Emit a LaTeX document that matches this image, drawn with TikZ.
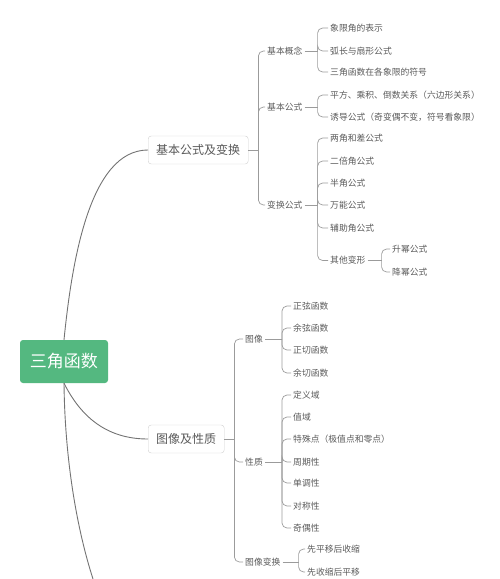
\documentclass[tikz,border=0pt]{standalone}
\usepackage{fontspec}
\newfontfamily\cjk{Noto Sans CJK SC}
\usetikzlibrary{positioning}
\definecolor{rootfill}{RGB}{84,184,128}
\definecolor{boxedge}{RGB}{208,208,208}
\definecolor{inktext}{RGB}{90,90,90}
\definecolor{wire}{RGB}{155,155,155}
\definecolor{trunk}{RGB}{115,115,115}

\begin{document}
\begin{tikzpicture}[x=1pt, y=-1pt,
    root/.style={fill=rootfill, rounded corners=3pt, text=white,
                 font=\cjk\fontsize{17}{20}\selectfont,
                 minimum width=88pt, minimum height=43pt},
    topic/.style={draw=boxedge, fill=white, rounded corners=3pt, text=inktext,
                  font=\cjk\fontsize{12}{14}\selectfont, inner xsep=8pt,
                  minimum height=28pt, anchor=west},
    sub/.style={text=inktext, font=\cjk\fontsize{8.8}{10}\selectfont,
                inner sep=2pt, anchor=west},
    trunkline/.style={trunk, line width=0.9pt},
    link/.style={wire, line width=0.7pt},
    branch/.style={wire, line width=0.7pt, rounded corners=5pt}
  ]
  \useasboundingbox (0,0) rectangle (500,579);

  % root and main topics
  \node[root] (sanjiao) at (64,361.5) {三角函数};
  \node[topic, minimum width=95pt] (jiben) at (148,150) {基本公式及变换};
  \node[topic] (tuxiang) at (148,439) {图像及性质};
  \coordinate (xiayige) at (94,582);

  \draw[trunkline] (sanjiao.north) .. controls (72,260) and (90,150) .. (jiben.west);
  \draw[trunkline] (sanjiao.south) .. controls (80,415) and (105,439) .. (tuxiang.west);
  \draw[trunkline] (sanjiao.south) .. controls (65,470) and (80,540) .. (xiayige);

  % first branch
  \node[sub] (gainian) at (265,51) {基本概念};
  \node[sub] (gongshi) at (265,107) {基本公式};
  \node[sub] (bianhuan) at (265,205) {变换公式};

  \node[sub] (xiangxian) at (328,28) {象限角的表示};
  \node[sub] (huchang) at (328,51) {弧长与扇形公式};
  \node[sub] (fuhao) at (328,72) {三角函数在各象限的符号};
  \node[sub] (pingfang) at (328,95) {平方、乘积、倒数关系（六边形关系）};
  \node[sub] (youdao) at (328,117) {诱导公式（奇变偶不变，符号看象限）};
  \node[sub] (liangjiao) at (328,138) {两角和差公式};
  \node[sub] (erbei) at (328,161) {二倍角公式};
  \node[sub] (banjiao) at (328,183) {半角公式};
  \node[sub] (wanneng) at (328,205) {万能公式};
  \node[sub] (fuzhu) at (328,228) {辅助角公式};
  \node[sub] (qita) at (328,260.5) {其他变形};
  \node[sub] (shengmi) at (390,249) {升幂公式};
  \node[sub] (jiangmi) at (390,272) {降幂公式};

  \coordinate[right=10pt of jiben] (jibenj);
  \coordinate[right=13pt of gainian] (gainianj);
  \coordinate[right=13pt of gongshi] (gongshij);
  \coordinate[right=13pt of bianhuan] (bianhuanj);
  \coordinate[right=14pt of qita] (qitaj);

  \draw[link] (jiben) -- (jibenj);
  \draw[branch] (jibenj) |- (gainian);
  \draw[branch] (jibenj) |- (gongshi);
  \draw[branch] (jibenj) |- (bianhuan);

  \draw[link] (gainian) -- (gainianj);
  \draw[branch] (gainianj) |- (xiangxian);
  \draw[branch] (gainianj) |- (huchang);
  \draw[branch] (gainianj) |- (fuhao);

  \draw[link] (gongshi) -- (gongshij);
  \draw[branch] (gongshij) |- (pingfang);
  \draw[branch] (gongshij) |- (youdao);

  \draw[link] (bianhuan) -- (bianhuanj);
  \draw[branch] (bianhuanj) |- (liangjiao);
  \draw[branch] (bianhuanj) |- (erbei);
  \draw[branch] (bianhuanj) |- (banjiao);
  \draw[branch] (bianhuanj) |- (wanneng);
  \draw[branch] (bianhuanj) |- (fuzhu);
  \draw[branch] (bianhuanj) |- (qita);

  \draw[link] (qita) -- (qitaj);
  \draw[branch] (qitaj) |- (shengmi);
  \draw[branch] (qitaj) |- (jiangmi);

  % second branch
  \node[sub] (tu) at (243,339) {图像};
  \node[sub] (xingzhi) at (243,462) {性质};
  \node[sub] (tubian) at (243,562) {图像变换};

  \node[sub] (zhengxian) at (291,306) {正弦函数};
  \node[sub] (yuxian) at (291,328) {余弦函数};
  \node[sub] (zhengqie) at (291,350) {正切函数};
  \node[sub] (yuqie) at (291,373) {余切函数};
  \node[sub] (dingyi) at (291,395) {定义域};
  \node[sub] (zhiyu) at (291,417) {值域};
  \node[sub] (teshu) at (291,439) {特殊点（极值点和零点）};
  \node[sub] (zhouqi) at (291,462) {周期性};
  \node[sub] (dandiao) at (291,483) {单调性};
  \node[sub] (duichen) at (291,506) {对称性};
  \node[sub] (jiou) at (291,528) {奇偶性};
  \node[sub] (pingyi) at (305,549) {先平移后收缩};
  \node[sub] (shousuo) at (305,572) {先收缩后平移};

  \coordinate[right=10pt of tuxiang] (tuxiangj);
  \coordinate[right=17pt of tu] (tuj);
  \coordinate[right=17pt of xingzhi] (xingzhij);
  \coordinate[right=16pt of tubian] (tubianj);

  \draw[link] (tuxiang) -- (tuxiangj);
  \draw[branch] (tuxiangj) |- (tu);
  \draw[branch] (tuxiangj) |- (xingzhi);
  \draw[branch] (tuxiangj) |- (tubian);

  \draw[link] (tu) -- (tuj);
  \draw[branch] (tuj) |- (zhengxian);
  \draw[branch] (tuj) |- (yuxian);
  \draw[branch] (tuj) |- (zhengqie);
  \draw[branch] (tuj) |- (yuqie);

  \draw[link] (xingzhi) -- (xingzhij);
  \draw[branch] (xingzhij) |- (dingyi);
  \draw[branch] (xingzhij) |- (zhiyu);
  \draw[branch] (xingzhij) |- (teshu);
  \draw[branch] (xingzhij) |- (zhouqi);
  \draw[branch] (xingzhij) |- (dandiao);
  \draw[branch] (xingzhij) |- (duichen);
  \draw[branch] (xingzhij) |- (jiou);

  \draw[link] (tubian) -- (tubianj);
  \draw[branch] (tubianj) |- (pingyi);
  \draw[branch] (tubianj) |- (shousuo);
\end{tikzpicture}
\end{document}
